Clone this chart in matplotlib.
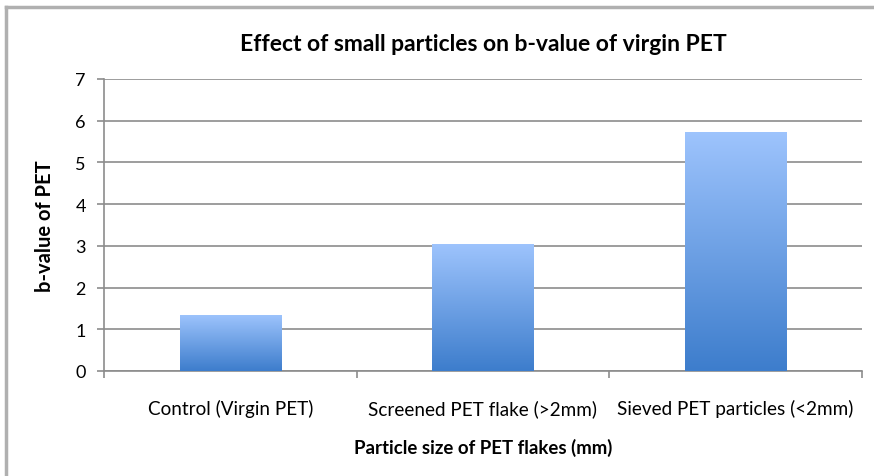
import matplotlib
matplotlib.use("Agg")
import matplotlib.pyplot as plt
import numpy as np
from matplotlib.colors import LinearSegmentedColormap
from matplotlib.lines import Line2D

categories = ["Control (Virgin PET)", "Screened PET flake (>2mm)", "Sieved PET particles (<2mm)"]
b_values = [1.35, 3.05, 5.73]
y_ticks = [0, 1, 2, 3, 4, 5, 6, 7]

plt.rcParams['font.family'] = ['Lato', 'DejaVu Sans']

fig = plt.figure(figsize=(8.74, 4.77), dpi=100)
ax = fig.add_axes([104/874, 1 - 372/477, (862-104)/874, (372-80)/477])

x = np.arange(len(categories))
bars = ax.bar(x, b_values, width=0.4, color="none", edgecolor="none", zorder=3)

# vertical gradient for each bar (light on top, darker at bottom)
cmap = LinearSegmentedColormap.from_list("barblue", ["#3d7dcc", "#9ec4fd"])
grad = np.linspace(0, 1, 256).reshape(-1, 1)
for b in bars:
    x0, w, h = b.get_x(), b.get_width(), b.get_height()
    im = ax.imshow(grad, cmap=cmap, origin="lower", aspect="auto",
                   extent=[x0, x0 + w, 0, h], zorder=3)
    im.set_clip_path(b)

ax.set_xlim(-0.5, len(categories) - 0.5)
ax.set_ylim(0, 7)
ax.set_yticks(y_ticks)
ax.yaxis.grid(True, color="#8c8c8c", linewidth=1.2, zorder=0)
ax.set_axisbelow(True)

ax.set_xticks(x)
ax.set_xticklabels(categories, fontsize=13.6)
ax.tick_params(axis="x", length=0, pad=20)
ax.set_xticks(np.arange(-0.5, len(categories)), minor=True)
ax.tick_params(axis="x", which="minor", length=5, width=1.2, color="#8c8c8c", direction="out")
ax.tick_params(axis="y", length=5, width=1.2, color="#8c8c8c", labelsize=13, pad=8)

for s in ["top", "right"]:
    ax.spines[s].set_visible(False)
for s in ["left", "bottom"]:
    ax.spines[s].set_color("#8c8c8c")
    ax.spines[s].set_linewidth(1.2)

ax.set_title("Effect of small particles on b-value of virgin PET", fontsize=16.5,
             fontweight="bold", pad=21)
ax.set_xlabel("Particle size of PET flakes (mm)", fontsize=13.4, fontweight="bold", labelpad=15)
ax.set_ylabel("b-value of PET", fontsize=14.5, fontweight="bold", labelpad=15)

# outer chart frame (top and left edges)
fig.add_artist(Line2D([6/874, 1], [1 - 8/477, 1 - 8/477], color="#b0b0b0", linewidth=2.5))
fig.add_artist(Line2D([6/874, 6/874], [0, 1 - 8/477], color="#b0b0b0", linewidth=2.5))

fig.savefig("out.png", dpi=100)
